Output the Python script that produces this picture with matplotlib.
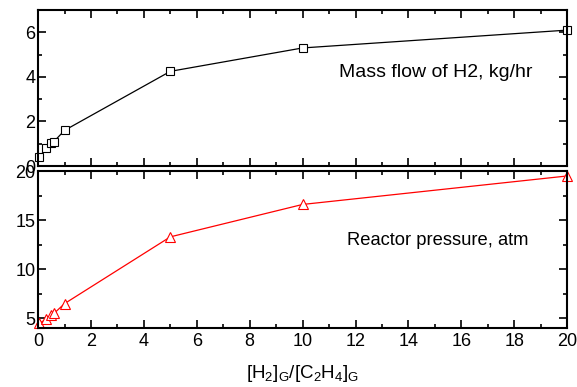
import matplotlib
matplotlib.use('Agg')
import matplotlib.pyplot as plt
from matplotlib.ticker import MultipleLocator

plt.rcParams['font.family'] = ['Liberation Sans', 'DejaVu Sans']
plt.rcParams['mathtext.fontset'] = 'custom'
plt.rcParams['mathtext.rm'] = 'Liberation Sans'

# H2/C2H4 ratio
ratio = [0.05, 0.3, 0.5, 0.6, 1, 5, 10, 20]
h2_flow = [0.4, 0.8, 1.05, 1.1, 1.6, 4.25, 5.3, 6.1]   # kg/hr
pressure = [4.5, 4.9, 5.3, 5.5, 6.5, 13.3, 16.6, 19.5]  # atm

fig = plt.figure(figsize=(5.77, 3.87), dpi=100)
ax1 = fig.add_axes([0.066, 0.571, 0.917, 0.403])
ax2 = fig.add_axes([0.066, 0.152, 0.917, 0.406])

ax1.plot(ratio, h2_flow, color='black', lw=0.9, marker='s', ms=6,
         mfc='white', mec='black', mew=0.8, clip_on=False)
ax2.plot(ratio, pressure, color='red', lw=0.9, marker='^', ms=7,
         mfc='white', mec='red', mew=0.8, clip_on=False)

ax1.set_ylim(0, 7)
ax2.set_ylim(4, 20)
for ax in (ax1, ax2):
    ax.set_xlim(0, 20)
    ax.xaxis.set_major_locator(MultipleLocator(2))
    ax.xaxis.set_minor_locator(MultipleLocator(1))
    ax.tick_params(which='both', direction='in', top=True, right=True,
                   labelsize=13, width=1.2)
    ax.tick_params(which='major', length=6)
    ax.tick_params(which='minor', length=3)
    for s in ax.spines.values():
        s.set_linewidth(1.5)

ax1.yaxis.set_major_locator(MultipleLocator(2))
ax1.yaxis.set_minor_locator(MultipleLocator(1))
ax2.yaxis.set_major_locator(MultipleLocator(5))
ax2.yaxis.set_minor_locator(MultipleLocator(2.5))
ax1.tick_params(labelbottom=False)
ax1.tick_params(axis='y', pad=2)
ax2.tick_params(axis='y', pad=2)

ax1.text(0.752, 0.60, 'Mass flow of H2, kg/hr', transform=ax1.transAxes,
         ha='center', va='center', fontsize=14)
ax2.text(0.756, 0.56, 'Reactor pressure, atm', transform=ax2.transAxes,
         ha='center', va='center', fontsize=13.2)

ax2.set_xlabel(r'[H$_2$]$_\mathrm{G}$/[C$_2$H$_4$]$_\mathrm{G}$',
               fontsize=13.5, labelpad=9)

fig.savefig('out.png', dpi=100)
